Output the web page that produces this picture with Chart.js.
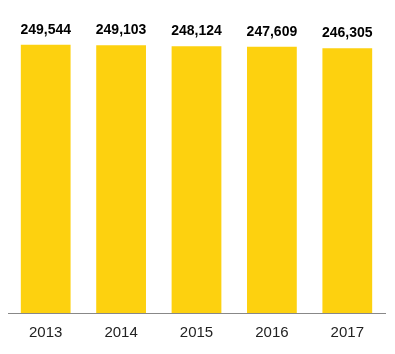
<!DOCTYPE html>
<html><head><meta charset="utf-8">
<script src="https://cdn.jsdelivr.net/npm/chart.js@4/dist/chart.umd.min.js"></script>
<style>html,body{margin:0;padding:0;background:#fff}#wrap{width:395px;height:354px}</style>
</head><body><div id="wrap"><canvas id="c" width="395" height="354"></canvas></div>
<script>
const categories = ["2013","2014","2015","2016","2017"];
const values = [249544, 249103, 248124, 247609, 246305];

const labelPlugin = {
  id: 'valLabels',
  afterDatasetsDraw(chart) {
    const ctx = chart.ctx;
    const meta = chart.getDatasetMeta(0);
    ctx.save();
    ctx.font = 'bold 14px Arial, "Liberation Sans", sans-serif';
    ctx.fillStyle = '#000';
    ctx.textAlign = 'center';
    ctx.textBaseline = 'bottom';
    meta.data.forEach((bar, i) => {
      ctx.fillText(values[i].toLocaleString('en-US'), bar.x, bar.y - 8);
    });
    ctx.restore();
  }
};

new Chart(document.getElementById('c'), {
  type: 'bar',
  data: { labels: categories, datasets: [{ data: values, backgroundColor: '#FDD10F', categoryPercentage: 1, barPercentage: 0.66 }] },
  options: {
    responsive: false, animation: false,
    layout: { padding: { left: 8, right: 10, top: 12, bottom: 9 } },
    plugins: { legend: { display: false }, tooltip: { enabled: false } },
    scales: {
      y: { display: false, min: 0, max: 280000 },
      x: {
        grid: { display: false },
        border: { display: true, color: '#888', width: 1 },
        ticks: { color: '#222', font: { family: 'Arial, "Liberation Sans", sans-serif', size: 15 }, padding: 3 }
      }
    }
  },
  plugins: [labelPlugin]
});
</script></body></html>
